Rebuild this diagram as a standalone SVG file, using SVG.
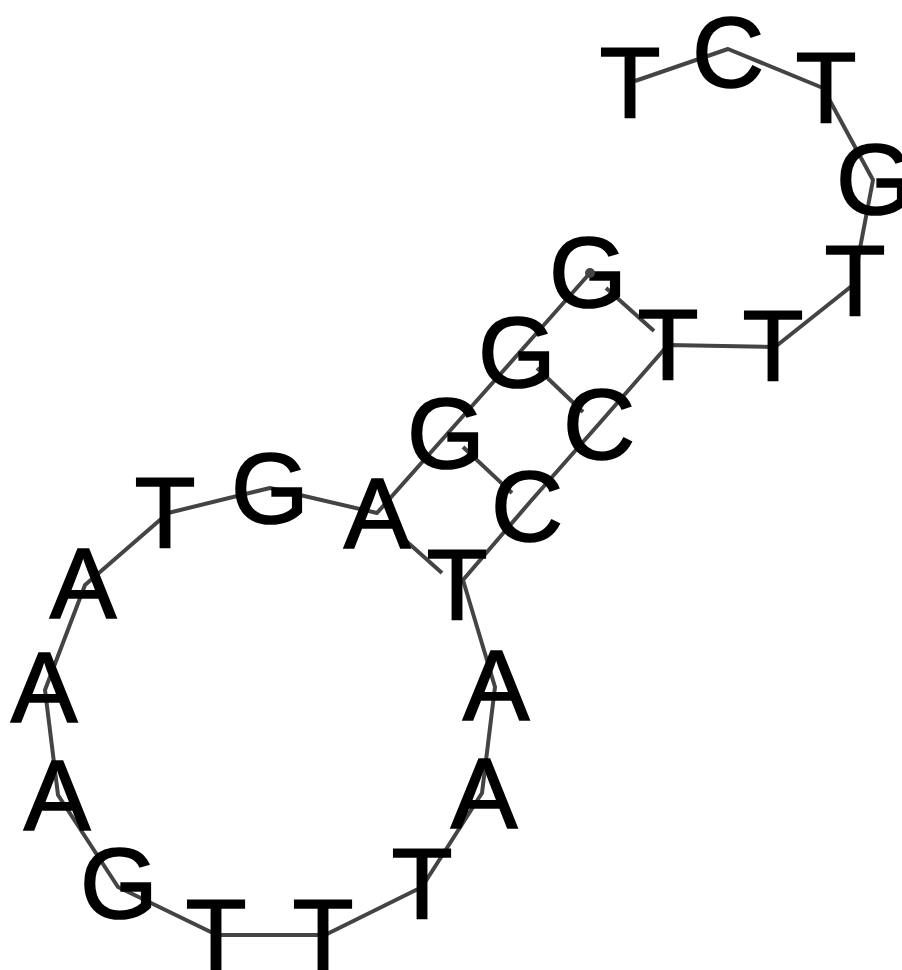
<svg xmlns="http://www.w3.org/2000/svg" width="902" height="970" viewBox="0 0 902 970">
<style>
.bb{fill:none;stroke:#444;stroke-width:4;stroke-linejoin:round;stroke-linecap:butt}
.bp{stroke:#444;stroke-width:4}
.nt{font-family:"Liberation Sans",Arial,sans-serif;font-size:100px;fill:#000;stroke:#000;stroke-width:1.6;text-anchor:middle}
</style>
<rect width="902" height="970" fill="#fff"/>
<g id="connectors">
<polyline class="bb" points="635,81 728,49 823,88 873,180 853,285 775,347 668,345 598,425 530,502 463,580 495,687 482,793 422,887 325,935 217,935 118,887 58,795 45,690 85,585 168,513 270,488 377,513 448,433 519,353 590,273"/>
<line class="bp" x1="606" y1="288" x2="654" y2="331"/>
<line class="bp" x1="537" y1="368" x2="583" y2="412"/>
<line class="bp" x1="463" y1="447" x2="512" y2="493"/>
<line class="bp" x1="405" y1="540" x2="442" y2="573"/>
</g>
<g id="n1"><text class="nt" x="630" y="117">T</text></g>
<g id="n2"><text class="nt" x="728" y="87">C</text></g>
<g id="n3"><text class="nt" x="826" y="122">T</text></g>
<g id="n4"><text class="nt" x="875" y="214">G</text></g>
<g id="n5"><text class="nt" x="855" y="315">T</text></g>
<g id="n6"><text class="nt" x="773" y="380">T</text></g>
<g id="n7"><text class="nt" x="668" y="379">T</text></g>
<g id="n8"><text class="nt" x="599" y="459">C</text></g>
<g id="n9"><text class="nt" x="527" y="541">C</text></g>
<g id="n10"><text class="nt" x="457" y="619">T</text></g>
<g id="n11"><text class="nt" x="496" y="720">A</text></g>
<g id="n12"><text class="nt" x="484" y="828">A</text></g>
<g id="n13"><text class="nt" x="422" y="918">T</text></g>
<g id="n14"><text class="nt" x="323" y="969">T</text></g>
<g id="n15"><text class="nt" x="216" y="969">T</text></g>
<g id="n16"><text class="nt" x="119" y="918">G</text></g>
<g id="n17"><text class="nt" x="57" y="830">A</text></g>
<g id="n18"><text class="nt" x="44" y="722">A</text></g>
<g id="n19"><text class="nt" x="83" y="618">A</text></g>
<g id="n20"><text class="nt" x="165" y="547">T</text></g>
<g id="n21"><text class="nt" x="270" y="523">G</text></g>
<g id="n22"><text class="nt" x="377" y="548">A</text></g>
<g id="n23"><text class="nt" x="446" y="468">G</text></g>
<g id="n24"><text class="nt" x="517" y="387">G</text></g>
<g id="n25"><text class="nt" x="588" y="307">G</text><circle cx="590" cy="273" r="5" fill="#444"/></g>
</svg>
